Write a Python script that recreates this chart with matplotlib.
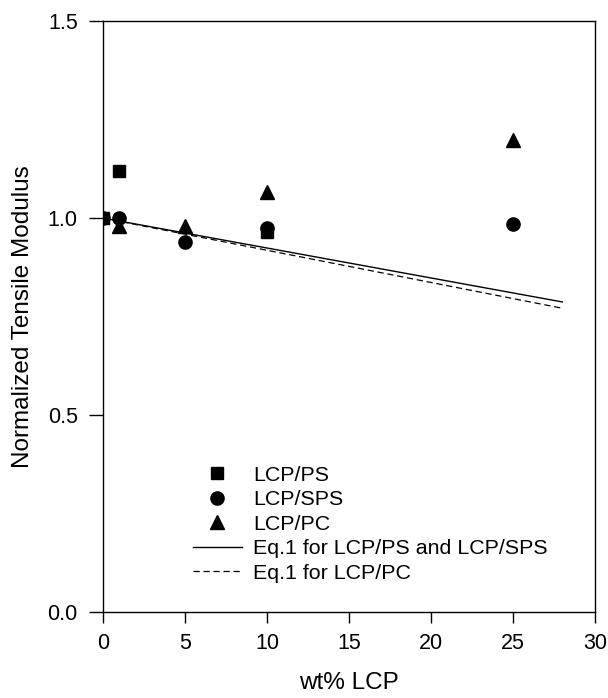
import matplotlib
matplotlib.use("Agg")
import matplotlib.pyplot as plt

plt.rcParams['font.family'] = ['Liberation Sans', 'DejaVu Sans']

# measured points
ps_x = [0, 1, 10]
ps_y = [1.0, 1.12, 0.965]
sps_x = [0, 1, 5, 10, 25]
sps_y = [1.0, 1.0, 0.94, 0.975, 0.985]
pc_x = [1, 5, 10, 25]
pc_y = [0.98, 0.98, 1.066, 1.198]

# Eq.1 predictions
eq_x = [0, 28]
eq_ps_y = [1.0, 0.787]
eq_pc_y = [1.0, 0.771]

fig = plt.figure(figsize=(6.08, 6.98), dpi=100)
ax = fig.add_axes([0.169, 0.123, 0.81, 0.847])

ax.plot(ps_x, ps_y, 's', color='black', markersize=8, linestyle='none', label='LCP/PS', zorder=3)
ax.plot(sps_x, sps_y, 'o', color='black', markersize=9.5, linestyle='none', label='LCP/SPS', zorder=3)
ax.plot(pc_x, pc_y, '^', color='black', markersize=9.5, linestyle='none', label='LCP/PC', zorder=3)
ax.plot(eq_x, eq_ps_y, '-', color='black', linewidth=1.0, label='Eq.1 for LCP/PS and LCP/SPS')
ax.plot(eq_x, eq_pc_y, '--', color='black', linewidth=0.9, dashes=(5, 3), label='Eq.1 for LCP/PC')

ax.set_xlim(0, 30)
ax.set_ylim(0, 1.5)
ax.set_xticks([0, 5, 10, 15, 20, 25, 30])
ax.set_yticks([0.0, 0.5, 1.0, 1.5])
ax.set_yticklabels(['0.0', '0.5', '1.0', '1.5'])
ax.tick_params(axis='x', direction='out', length=8, width=1, labelsize=15.5, pad=7)
ax.tick_params(axis='y', direction='out', length=10, width=1, labelsize=15.5, pad=8)
for s in ax.spines.values():
    s.set_linewidth(1.0)

ax.set_xlabel('wt% LCP', fontsize=17.5, labelpad=13)
ax.set_ylabel('Normalized Tensile Modulus', fontsize=17.5, labelpad=10)

ax.legend(loc='upper left', bbox_to_anchor=(0.183, 0.248), frameon=False,
          fontsize=15.4, handlelength=2.3, handletextpad=0.5, labelspacing=0.26,
          borderpad=0, borderaxespad=0)

fig.savefig('out.png', dpi=100)
